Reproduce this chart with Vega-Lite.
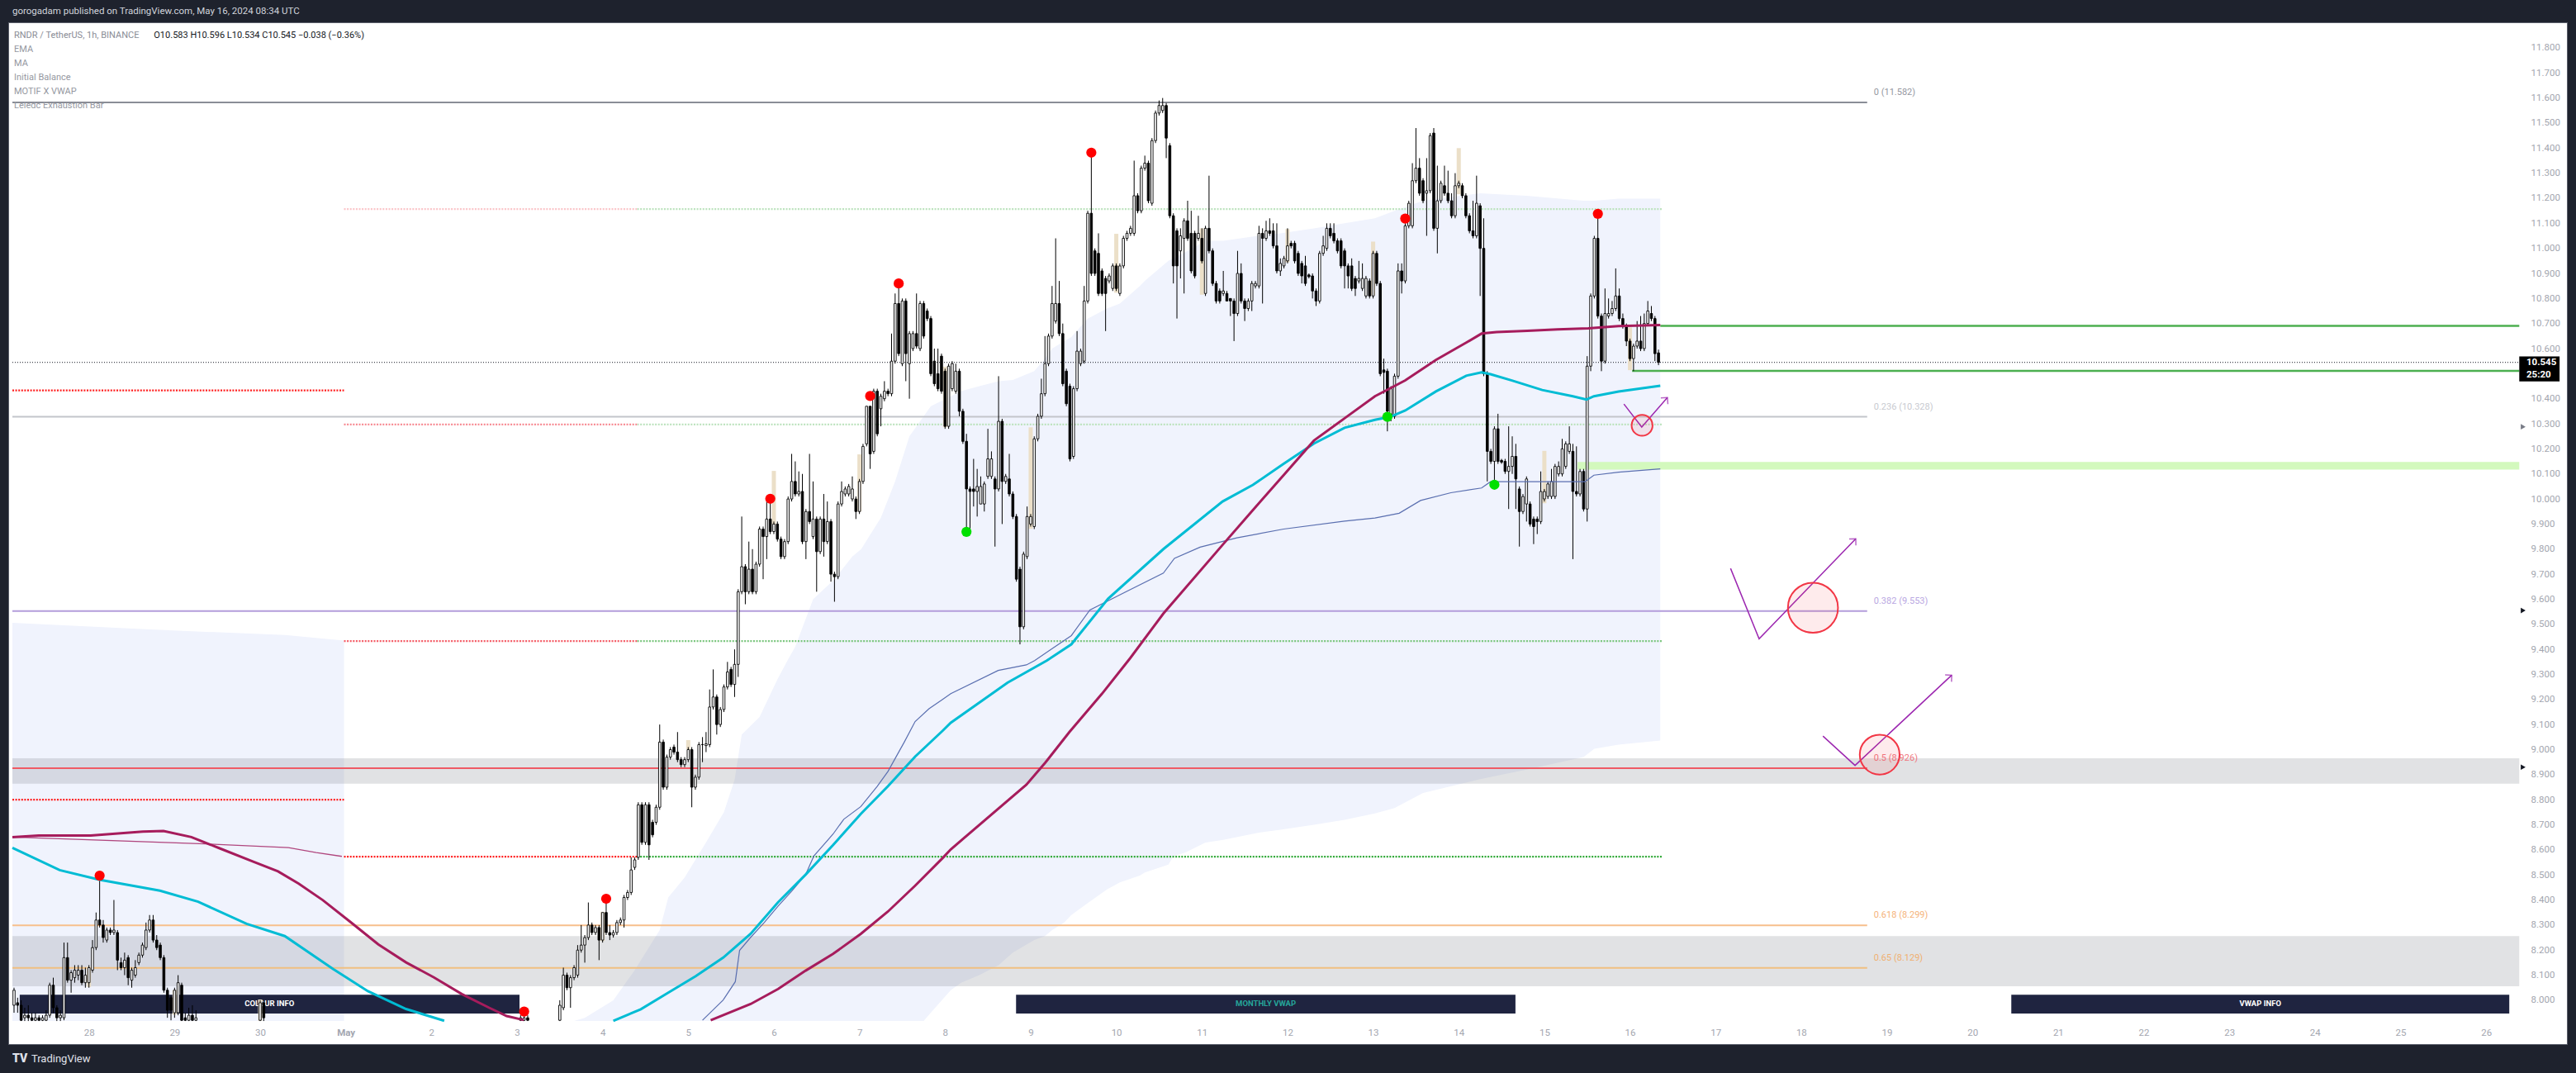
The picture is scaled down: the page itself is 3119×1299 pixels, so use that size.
{
"$schema": "https://vega.github.io/schema/vega-lite/v6.json",
"width": 3098, "height": 1237,
"autosize": {"type": "none"},
"padding": {"left": 10, "top": 27, "right": 11, "bottom": 35},
"background": "#1e222d",
"config": {"font": "Roboto", "view": {"fill": "#ffffff", "stroke": "#5b5f6b", "strokeWidth": 1}, "axis": {"grid": false, "domain": false, "ticks": false, "labelColor": "#a3a6af", "labelFontSize": 11.5, "labelFont": "Roboto", "labelOverlap": false}},
"resolve": {"scale": {"color": "independent", "size": "independent"}},
"data": {"values": [{}]},
"datasets": {
"band": [
{"s":"L","t":2.539,"top":9.506,"bot":7.917},{"s":"L","t":40,"top":9.48,"bot":7.917},{"s":"L","t":79,"top":9.457,"bot":7.917},{"s":"L","t":95.5,"top":9.435,"bot":7.917},
{"s":"M","t":160,"top":7.917,"bot":7.917},{"s":"M","t":163,"top":7.93,"bot":7.917},{"s":"M","t":171,"top":8.0,"bot":7.917},{"s":"M","t":177,"top":8.12,"bot":7.917},{"s":"M","t":184,"top":8.28,"bot":7.917},{"s":"M","t":186.4,"top":8.41,"bot":7.917},{"s":"M","t":191,"top":8.49,"bot":7.917},{"s":"M","t":197,"top":8.63,"bot":7.917},{"s":"M","t":202,"top":8.75,"bot":7.917},{"s":"M","t":205,"top":8.88,"bot":7.917},{"s":"M","t":207,"top":9.06,"bot":7.917},{"s":"M","t":212,"top":9.13,"bot":7.917},{"s":"M","t":217,"top":9.28,"bot":7.917},{"s":"M","t":220,"top":9.36,"bot":7.917},{"s":"M","t":222,"top":9.41,"bot":7.917},{"s":"M","t":227,"top":9.6,"bot":7.917},{"s":"M","t":233,"top":9.68,"bot":7.917},{"s":"M","t":238,"top":9.77,"bot":7.917},{"s":"M","t":240.5,"top":9.8,"bot":7.917},{"s":"M","t":246,"top":9.925,"bot":7.917},{"s":"M","t":250,"top":10.07,"bot":7.917},{"s":"M","t":254,"top":10.25,"bot":7.917},{"s":"M","t":258,"top":10.33,"bot":7.917},{"s":"M","t":260,"top":10.37,"bot":7.95},{"s":"M","t":265.6,"top":10.41,"bot":8.04},{"s":"M","t":268.5,"top":10.43,"bot":8.07},{"s":"M","t":273.6,"top":10.45,"bot":8.1},{"s":"M","t":279,"top":10.47,"bot":8.14},{"s":"M","t":283,"top":10.475,"bot":8.19},{"s":"M","t":289,"top":10.51,"bot":8.24},{"s":"M","t":292,"top":10.56,"bot":8.256},{"s":"M","t":294,"top":10.6,"bot":8.28},{"s":"M","t":297.4,"top":10.63,"bot":8.31},{"s":"M","t":299.4,"top":10.646,"bot":8.34},{"s":"M","t":304,"top":10.72,"bot":8.388},{"s":"M","t":309.4,"top":10.76,"bot":8.442},{"s":"M","t":313,"top":10.78,"bot":8.47},{"s":"M","t":318.6,"top":10.85,"bot":8.497},{"s":"M","t":320,"top":10.87,"bot":8.51},{"s":"M","t":326.6,"top":10.95,"bot":8.541},{"s":"M","t":328,"top":10.96,"bot":8.574},{"s":"M","t":331.4,"top":10.985,"bot":8.59},{"s":"M","t":337,"top":11.03,"bot":8.629},{"s":"M","t":342,"top":11.03,"bot":8.64},{"s":"M","t":351.7,"top":11.05,"bot":8.668},{"s":"M","t":358,"top":11.06,"bot":8.68},{"s":"M","t":367.4,"top":11.08,"bot":8.7},{"s":"M","t":376,"top":11.1,"bot":8.72},{"s":"M","t":384.5,"top":11.12,"bot":8.745},{"s":"M","t":390,"top":11.15,"bot":8.767},{"s":"M","t":398,"top":11.19,"bot":8.827},{"s":"M","t":414,"top":11.22,"bot":8.882},{"s":"M","t":427,"top":11.21,"bot":8.92},{"s":"M","t":443,"top":11.19,"bot":8.97},{"s":"M","t":446,"top":11.19,"bot":9.003},{"s":"M","t":452.8,"top":11.198,"bot":9.02},{"s":"M","t":464.5,"top":11.198,"bot":9.036}
],
"zones": [{"t1":2.539,"t2":705.3,"lo":8.864,"hi":8.965},{"t1":2.539,"t2":705.3,"lo":8.056,"hi":8.256}],
"lgzone": [{"t1":441.3,"t2":705.3,"lo":10.117,"hi":10.148}],
"fib": [
{"lvl":"0","p":11.582,"t1":2.539,"t2":522.5,"txt":"0 (11.582)"},
{"lvl":"0.236","p":10.328,"t1":2.539,"t2":522.5,"txt":"0.236 (10.328)"},
{"lvl":"0.382","p":9.553,"t1":2.539,"t2":522.5,"txt":"0.382 (9.553)"},
{"lvl":"0.5","p":8.926,"t1":2.539,"t2":522.5,"txt":"0.5 (8.926)"},
{"lvl":"0.618","p":8.299,"t1":2.539,"t2":522.5,"txt":"0.618 (8.299)"},
{"lvl":"0.65","p":8.129,"t1":2.539,"t2":522.5,"txt":"0.65 (8.129)"}
],
"ibl": [
{"g":"pk","p":11.157,"t1":95.5,"t2":177.7},{"g":"lg","p":11.157,"t1":177.7,"t2":465},
{"g":"r","p":10.433,"t1":2.539,"t2":95.5},
{"g":"pm","p":10.297,"t1":95.5,"t2":177.7},{"g":"lg","p":10.297,"t1":177.7,"t2":465},
{"g":"rm","p":9.433,"t1":95.5,"t2":177.7},{"g":"gm","p":9.433,"t1":177.7,"t2":465},
{"g":"r","p":8.8,"t1":2.539,"t2":95.5},
{"g":"r","p":8.573,"t1":95.5,"t2":177.7},{"g":"g","p":8.573,"t1":177.7,"t2":465}
],
"greens": [{"p":10.691,"t1":464.5,"t2":705.3},{"p":10.511,"t1":456.6,"t2":705.3}],
"boxes": [
{"t1":4.6,"t2":144.7,"tm":74.6,"lo":7.947,"hi":8.022,"txt":"COLOUR INFO"},
{"t1":283.9,"t2":423.9,"tm":353.9,"lo":7.947,"hi":8.022,"txt":"MONTHLY VWAP"},
{"t1":562.9,"t2":702.5,"tm":632.7,"lo":7.947,"hi":8.022,"txt":"VWAP INFO"}
],
"ib": [
{"t":24,"lo":8.053,"hi":8.135},{"t":48,"lo":7.942,"hi":8.041},{"t":72,"lo":7.918,"hi":8.003},{"t":168,"lo":8.236,"hi":8.353},{"t":192,"lo":9.001,"hi":9.038},{"t":216,"lo":9.898,"hi":10.112},{"t":240,"lo":9.95,"hi":10.178},{"t":264,"lo":10.286,"hi":10.528},{"t":288,"lo":9.881,"hi":10.286},{"t":312,"lo":10.823,"hi":11.058},{"t":336,"lo":10.815,"hi":11.08},{"t":360,"lo":10.944,"hi":11.077},{"t":384,"lo":10.812,"hi":11.027},{"t":408,"lo":11.216,"hi":11.4},{"t":432,"lo":9.983,"hi":10.192},{"t":456,"lo":10.514,"hi":10.685}
],
"candles": [
{"t":3,"o":7.98,"hi":8.05,"lo":7.95,"c":8.04},{"t":4,"o":7.99,"hi":8.01,"lo":7.95,"c":7.98},{"t":5,"o":7.98,"hi":8.0,"lo":7.917,"c":7.92},{"t":6,"o":7.93,"hi":7.97,"lo":7.917,"c":7.94},{"t":7,"o":7.94,"hi":7.98,"lo":7.917,"c":7.93},{"t":8,"o":7.93,"hi":7.95,"lo":7.917,"c":7.92},{"t":9,"o":7.92,"hi":7.95,"lo":7.917,"c":7.93},{"t":10,"o":7.93,"hi":7.94,"lo":7.917,"c":7.92},{"t":11,"o":7.92,"hi":7.94,"lo":7.917,"c":7.93},{"t":12,"o":7.92,"hi":7.96,"lo":7.917,"c":7.94},
{"t":13,"o":7.94,"hi":8.07,"lo":7.93,"c":8.06},{"t":14,"o":8.06,"hi":8.09,"lo":7.95,"c":7.97},{"t":15,"o":7.97,"hi":7.98,"lo":7.917,"c":7.93},{"t":16,"o":7.93,"hi":7.96,"lo":7.917,"c":7.94},{"t":17,"o":7.93,"hi":8.23,"lo":7.92,"c":8.17},{"t":18,"o":8.17,"hi":8.23,"lo":8.07,"c":8.08},{"t":19,"o":8.08,"hi":8.12,"lo":8.03,"c":8.11},{"t":20,"o":8.09,"hi":8.14,"lo":8.07,"c":8.12},{"t":21,"o":8.1,"hi":8.14,"lo":8.08,"c":8.12},{"t":22,"o":8.12,"hi":8.14,"lo":8.06,"c":8.07},
{"t":23,"o":8.07,"hi":8.13,"lo":8.05,"c":8.1},{"t":24,"o":8.07,"hi":8.14,"lo":8.05,"c":8.13},{"t":25,"o":8.12,"hi":8.24,"lo":8.11,"c":8.21},{"t":26,"o":8.21,"hi":8.35,"lo":8.2,"c":8.32},{"t":27,"o":8.32,"hi":8.5,"lo":8.29,"c":8.3},{"t":28,"o":8.3,"hi":8.32,"lo":8.23,"c":8.25},{"t":29,"o":8.24,"hi":8.29,"lo":8.23,"c":8.28},{"t":30,"o":8.28,"hi":8.29,"lo":8.26,"c":8.27},{"t":31,"o":8.27,"hi":8.4,"lo":8.26,"c":8.28},{"t":32,"o":8.27,"hi":8.28,"lo":8.12,"c":8.16},
{"t":33,"o":8.15,"hi":8.17,"lo":8.12,"c":8.13},{"t":34,"o":8.13,"hi":8.19,"lo":8.1,"c":8.16},{"t":35,"o":8.17,"hi":8.18,"lo":8.06,"c":8.09},{"t":36,"o":8.08,"hi":8.13,"lo":8.05,"c":8.12},{"t":37,"o":8.1,"hi":8.16,"lo":8.09,"c":8.13},{"t":38,"o":8.15,"hi":8.19,"lo":8.14,"c":8.18},{"t":39,"o":8.18,"hi":8.23,"lo":8.17,"c":8.22},{"t":40,"o":8.21,"hi":8.31,"lo":8.2,"c":8.28},{"t":41,"o":8.28,"hi":8.34,"lo":8.27,"c":8.32},{"t":42,"o":8.32,"hi":8.34,"lo":8.23,"c":8.24},
{"t":43,"o":8.24,"hi":8.26,"lo":8.2,"c":8.21},{"t":44,"o":8.22,"hi":8.23,"lo":8.16,"c":8.17},{"t":45,"o":8.17,"hi":8.18,"lo":8.03,"c":8.04},{"t":46,"o":8.04,"hi":8.05,"lo":7.93,"c":7.96},{"t":47,"o":8.01,"hi":8.02,"lo":7.92,"c":7.96},{"t":48,"o":7.95,"hi":8.05,"lo":7.93,"c":8.04},{"t":49,"o":7.95,"hi":8.1,"lo":7.94,"c":8.07},{"t":50,"o":8.06,"hi":8.07,"lo":7.917,"c":7.92},{"t":51,"o":7.93,"hi":7.95,"lo":7.917,"c":7.92},{"t":52,"o":7.92,"hi":7.97,"lo":7.917,"c":7.94},
{"t":53,"o":7.94,"hi":7.98,"lo":7.917,"c":7.92},{"t":54,"o":7.92,"hi":7.96,"lo":7.917,"c":7.93},{"t":72,"o":7.92,"hi":8.0,"lo":7.917,"c":7.99},{"t":73,"o":7.99,"hi":8.0,"lo":7.917,"c":7.93},{"t":145,"o":7.92,"hi":7.94,"lo":7.917,"c":7.93},{"t":146,"o":7.92,"hi":7.945,"lo":7.917,"c":7.93},{"t":147,"o":7.93,"hi":7.94,"lo":7.917,"c":7.92},
{"t":156,"o":7.92,"hi":8.0,"lo":7.917,"c":7.98},{"t":157,"o":7.97,"hi":8.13,"lo":7.96,"c":8.1},{"t":158,"o":8.1,"hi":8.11,"lo":8.04,"c":8.05},{"t":159,"o":8.05,"hi":8.1,"lo":7.97,"c":8.09},{"t":160,"o":8.09,"hi":8.14,"lo":8.08,"c":8.13},{"t":161,"o":8.1,"hi":8.22,"lo":8.09,"c":8.2},{"t":162,"o":8.2,"hi":8.3,"lo":8.19,"c":8.22},{"t":163,"o":8.22,"hi":8.26,"lo":8.15,"c":8.25},{"t":164,"o":8.25,"hi":8.39,"lo":8.24,"c":8.3},{"t":165,"o":8.3,"hi":8.31,"lo":8.26,"c":8.27},
{"t":166,"o":8.27,"hi":8.3,"lo":8.26,"c":8.29},{"t":167,"o":8.29,"hi":8.3,"lo":8.16,"c":8.24},{"t":168,"o":8.24,"hi":8.35,"lo":8.23,"c":8.35},{"t":169,"o":8.35,"hi":8.4,"lo":8.26,"c":8.27},{"t":170,"o":8.27,"hi":8.3,"lo":8.24,"c":8.26},{"t":171,"o":8.26,"hi":8.28,"lo":8.25,"c":8.27},{"t":172,"o":8.27,"hi":8.32,"lo":8.26,"c":8.31},{"t":173,"o":8.31,"hi":8.33,"lo":8.3,"c":8.32},{"t":174,"o":8.32,"hi":8.42,"lo":8.29,"c":8.41},{"t":175,"o":8.41,"hi":8.44,"lo":8.4,"c":8.43},
{"t":176,"o":8.43,"hi":8.57,"lo":8.42,"c":8.52},{"t":177,"o":8.53,"hi":8.57,"lo":8.52,"c":8.56},{"t":178,"o":8.57,"hi":8.79,"lo":8.56,"c":8.78},{"t":179,"o":8.78,"hi":8.79,"lo":8.62,"c":8.63},{"t":180,"o":8.63,"hi":8.79,"lo":8.62,"c":8.78},{"t":181,"o":8.78,"hi":8.79,"lo":8.56,"c":8.62},{"t":182,"o":8.71,"hi":8.72,"lo":8.65,"c":8.66},{"t":183,"o":8.71,"hi":8.78,"lo":8.7,"c":8.77},{"t":184,"o":8.77,"hi":9.1,"lo":8.76,"c":9.03},{"t":185,"o":9.03,"hi":9.04,"lo":8.84,"c":8.85},
{"t":186,"o":8.85,"hi":8.98,"lo":8.84,"c":8.97},{"t":187,"o":8.97,"hi":9.01,"lo":8.96,"c":9.0},{"t":188,"o":9.01,"hi":9.02,"lo":8.98,"c":8.99},{"t":189,"o":8.99,"hi":9.07,"lo":8.95,"c":8.96},{"t":190,"o":8.96,"hi":8.97,"lo":8.93,"c":8.94},{"t":191,"o":8.94,"hi":8.97,"lo":8.93,"c":8.96},{"t":192,"o":8.96,"hi":9.01,"lo":8.95,"c":9.0},{"t":193,"o":9.0,"hi":9.01,"lo":8.77,"c":8.85},{"t":194,"o":8.85,"hi":8.9,"lo":8.84,"c":8.89},{"t":195,"o":8.89,"hi":9.03,"lo":8.88,"c":9.02},
{"t":196,"o":9.02,"hi":9.05,"lo":8.95,"c":9.02},{"t":197,"o":9.016,"hi":9.07,"lo":8.99,"c":9.023},{"t":198,"o":9.02,"hi":9.24,"lo":9.01,"c":9.17},{"t":199,"o":9.17,"hi":9.32,"lo":9.16,"c":9.21},{"t":200,"o":9.21,"hi":9.22,"lo":9.06,"c":9.1},{"t":201,"o":9.1,"hi":9.17,"lo":9.09,"c":9.16},{"t":202,"o":9.16,"hi":9.26,"lo":9.15,"c":9.25},{"t":203,"o":9.25,"hi":9.35,"lo":9.24,"c":9.31},{"t":204,"o":9.32,"hi":9.33,"lo":9.25,"c":9.26},{"t":205,"o":9.26,"hi":9.4,"lo":9.21,"c":9.34},
{"t":206,"o":9.34,"hi":9.64,"lo":9.29,"c":9.63},{"t":207,"o":9.63,"hi":9.93,"lo":9.62,"c":9.73},{"t":208,"o":9.73,"hi":9.74,"lo":9.58,"c":9.63},{"t":209,"o":9.63,"hi":9.83,"lo":9.62,"c":9.72},{"t":210,"o":9.72,"hi":9.8,"lo":9.62,"c":9.63},{"t":211,"o":9.63,"hi":9.75,"lo":9.62,"c":9.74},{"t":212,"o":9.74,"hi":9.89,"lo":9.73,"c":9.88},{"t":213,"o":9.88,"hi":9.89,"lo":9.68,"c":9.85},{"t":214,"o":9.85,"hi":9.99,"lo":9.76,"c":9.92},{"t":215,"o":9.92,"hi":9.99,"lo":9.86,"c":9.87},
{"t":216,"o":9.87,"hi":9.91,"lo":9.86,"c":9.9},{"t":217,"o":9.9,"hi":9.91,"lo":9.83,"c":9.84},{"t":218,"o":9.84,"hi":9.85,"lo":9.76,"c":9.77},{"t":219,"o":9.77,"hi":9.84,"lo":9.76,"c":9.83},{"t":220,"o":9.83,"hi":10.01,"lo":9.82,"c":10.0},{"t":221,"o":10.0,"hi":10.18,"lo":9.99,"c":10.07},{"t":222,"o":10.07,"hi":10.15,"lo":10.01,"c":10.02},{"t":223,"o":10.02,"hi":10.11,"lo":10.01,"c":10.03},{"t":224,"o":10.03,"hi":10.1,"lo":9.82,"c":9.83},{"t":225,"o":9.83,"hi":9.96,"lo":9.76,"c":9.95},
{"t":226,"o":9.95,"hi":10.18,"lo":9.9,"c":9.91},{"t":227,"o":9.85,"hi":10.07,"lo":9.84,"c":9.92},{"t":228,"o":9.92,"hi":9.93,"lo":9.63,"c":9.79},{"t":229,"o":9.79,"hi":9.93,"lo":9.78,"c":9.92},{"t":230,"o":9.92,"hi":10.02,"lo":9.77,"c":9.83},{"t":231,"o":9.83,"hi":9.99,"lo":9.82,"c":9.91},{"t":232,"o":9.91,"hi":9.92,"lo":9.67,"c":9.7},{"t":233,"o":9.7,"hi":9.71,"lo":9.59,"c":9.69},{"t":234,"o":9.69,"hi":9.99,"lo":9.68,"c":9.98},{"t":235,"o":9.98,"hi":10.07,"lo":9.97,"c":10.03},
{"t":236,"o":10.02,"hi":10.05,"lo":10.01,"c":10.04},{"t":237,"o":10.02,"hi":10.06,"lo":10.01,"c":10.05},{"t":238,"o":10.0,"hi":10.09,"lo":9.99,"c":10.04},{"t":239,"o":10.0,"hi":10.01,"lo":9.92,"c":9.95},{"t":240,"o":9.95,"hi":10.08,"lo":9.94,"c":10.07},{"t":241,"o":10.07,"hi":10.22,"lo":10.06,"c":10.21},{"t":242,"o":10.22,"hi":10.37,"lo":10.21,"c":10.37},{"t":243,"o":10.37,"hi":10.37,"lo":10.12,"c":10.18},{"t":244,"o":10.19,"hi":10.44,"lo":10.18,"c":10.43},{"t":245,"o":10.43,"hi":10.44,"lo":10.25,"c":10.26},
{"t":246,"o":10.36,"hi":10.42,"lo":10.29,"c":10.41},{"t":247,"o":10.4,"hi":10.47,"lo":10.39,"c":10.43},{"t":248,"o":10.43,"hi":10.44,"lo":10.41,"c":10.42},{"t":249,"o":10.42,"hi":10.66,"lo":10.41,"c":10.55},{"t":250,"o":10.55,"hi":10.82,"lo":10.54,"c":10.78},{"t":251,"o":10.78,"hi":10.86,"lo":10.57,"c":10.58},{"t":252,"o":10.54,"hi":10.8,"lo":10.53,"c":10.79},{"t":253,"o":10.79,"hi":10.8,"lo":10.47,"c":10.58},{"t":254,"o":10.54,"hi":10.67,"lo":10.4,"c":10.66},{"t":255,"o":10.6,"hi":10.67,"lo":10.59,"c":10.66},
{"t":256,"o":10.66,"hi":10.82,"lo":10.6,"c":10.61},{"t":257,"o":10.6,"hi":10.79,"lo":10.59,"c":10.78},{"t":258,"o":10.78,"hi":10.79,"lo":10.64,"c":10.65},{"t":259,"o":10.75,"hi":10.76,"lo":10.71,"c":10.72},{"t":260,"o":10.72,"hi":10.73,"lo":10.49,"c":10.5},{"t":261,"o":10.55,"hi":10.6,"lo":10.45,"c":10.46},{"t":262,"o":10.5,"hi":10.6,"lo":10.43,"c":10.44},{"t":263,"o":10.57,"hi":10.58,"lo":10.42,"c":10.43},{"t":264,"o":10.51,"hi":10.52,"lo":10.28,"c":10.29},{"t":265,"o":10.29,"hi":10.54,"lo":10.28,"c":10.53},
{"t":266,"o":10.44,"hi":10.55,"lo":10.43,"c":10.54},{"t":267,"o":10.43,"hi":10.54,"lo":10.42,"c":10.51},{"t":268,"o":10.51,"hi":10.52,"lo":10.33,"c":10.35},{"t":269,"o":10.35,"hi":10.36,"lo":10.22,"c":10.23},{"t":270,"o":10.23,"hi":10.26,"lo":9.87,"c":10.04},{"t":271,"o":10.04,"hi":10.05,"lo":9.87,"c":10.03},{"t":272,"o":10.04,"hi":10.16,"lo":9.97,"c":10.03},{"t":273,"o":10.03,"hi":10.12,"lo":9.93,"c":10.05},{"t":274,"o":9.98,"hi":10.09,"lo":9.98,"c":10.05},{"t":275,"o":9.98,"hi":10.07,"lo":9.95,"c":10.06},
{"t":276,"o":10.09,"hi":10.28,"lo":10.08,"c":10.16},{"t":277,"o":10.09,"hi":10.19,"lo":10.08,"c":10.16},{"t":278,"o":10.08,"hi":10.09,"lo":9.81,"c":10.04},{"t":279,"o":10.04,"hi":10.49,"lo":10.03,"c":10.31},{"t":280,"o":10.31,"hi":10.32,"lo":9.9,"c":10.07},{"t":281,"o":10.07,"hi":10.1,"lo":10.06,"c":10.09},{"t":282,"o":10.08,"hi":10.18,"lo":10.01,"c":10.02},{"t":283,"o":10.02,"hi":10.03,"lo":9.92,"c":9.93},{"t":284,"o":9.93,"hi":9.94,"lo":9.67,"c":9.68},{"t":285,"o":9.72,"hi":9.73,"lo":9.42,"c":9.49},
{"t":286,"o":9.49,"hi":9.79,"lo":9.48,"c":9.78},{"t":287,"o":9.77,"hi":9.97,"lo":9.76,"c":9.93},{"t":288,"o":9.9,"hi":9.94,"lo":9.89,"c":9.93},{"t":289,"o":9.89,"hi":10.25,"lo":9.88,"c":10.24},{"t":290,"o":10.24,"hi":10.34,"lo":10.23,"c":10.33},{"t":291,"o":10.33,"hi":10.48,"lo":10.32,"c":10.42},{"t":292,"o":10.42,"hi":10.65,"lo":10.41,"c":10.54},{"t":293,"o":10.54,"hi":10.66,"lo":10.53,"c":10.65},{"t":294,"o":10.65,"hi":10.85,"lo":10.64,"c":10.78},{"t":295,"o":10.71,"hi":11.04,"lo":10.7,"c":10.78},
{"t":296,"o":10.78,"hi":10.87,"lo":10.65,"c":10.66},{"t":297,"o":10.66,"hi":10.7,"lo":10.45,"c":10.46},{"t":298,"o":10.51,"hi":10.52,"lo":10.37,"c":10.38},{"t":299,"o":10.45,"hi":10.46,"lo":10.15,"c":10.16},{"t":300,"o":10.17,"hi":10.45,"lo":10.16,"c":10.44},{"t":301,"o":10.44,"hi":10.67,"lo":10.43,"c":10.59},{"t":302,"o":10.54,"hi":10.6,"lo":10.53,"c":10.59},{"t":303,"o":10.55,"hi":10.85,"lo":10.54,"c":10.79},{"t":304,"o":10.79,"hi":11.15,"lo":10.78,"c":11.14},{"t":305,"o":11.14,"hi":11.38,"lo":10.89,"c":10.9},
{"t":306,"o":10.99,"hi":11.0,"lo":10.89,"c":10.9},{"t":307,"o":10.98,"hi":11.06,"lo":10.81,"c":10.82},{"t":308,"o":10.91,"hi":10.92,"lo":10.81,"c":10.82},{"t":309,"o":10.88,"hi":10.89,"lo":10.67,"c":10.82},{"t":310,"o":10.87,"hi":10.9,"lo":10.86,"c":10.89},{"t":311,"o":10.84,"hi":10.94,"lo":10.83,"c":10.93},{"t":312,"o":10.93,"hi":10.94,"lo":10.83,"c":10.84},{"t":313,"o":10.82,"hi":10.94,"lo":10.81,"c":10.93},{"t":314,"o":10.93,"hi":11.05,"lo":10.92,"c":11.04},{"t":315,"o":11.04,"hi":11.07,"lo":11.03,"c":11.06},
{"t":316,"o":11.06,"hi":11.09,"lo":11.05,"c":11.08},{"t":317,"o":11.06,"hi":11.35,"lo":11.05,"c":11.21},{"t":318,"o":11.21,"hi":11.22,"lo":11.14,"c":11.15},{"t":319,"o":11.15,"hi":11.33,"lo":11.14,"c":11.32},{"t":320,"o":11.32,"hi":11.37,"lo":11.31,"c":11.34},{"t":321,"o":11.34,"hi":11.35,"lo":11.18,"c":11.19},{"t":322,"o":11.18,"hi":11.44,"lo":11.17,"c":11.43},{"t":323,"o":11.43,"hi":11.55,"lo":11.42,"c":11.54},{"t":324,"o":11.54,"hi":11.59,"lo":11.53,"c":11.57},{"t":325,"o":11.55,"hi":11.6,"lo":11.54,"c":11.57},
{"t":326,"o":11.57,"hi":11.58,"lo":11.36,"c":11.44},{"t":327,"o":11.41,"hi":11.42,"lo":11.12,"c":11.13},{"t":328,"o":11.13,"hi":11.14,"lo":10.86,"c":10.93},{"t":329,"o":11.07,"hi":11.08,"lo":10.72,"c":10.93},{"t":330,"o":10.99,"hi":11.08,"lo":10.88,"c":11.05},{"t":331,"o":11.04,"hi":11.12,"lo":10.82,"c":11.11},{"t":332,"o":11.11,"hi":11.19,"lo":11.03,"c":11.04},{"t":333,"o":11.06,"hi":11.15,"lo":10.9,"c":10.91},{"t":334,"o":11.06,"hi":11.07,"lo":10.88,"c":10.89},{"t":335,"o":11.04,"hi":11.13,"lo":11.03,"c":11.06},
{"t":336,"o":11.04,"hi":11.08,"lo":10.94,"c":10.95},{"t":337,"o":10.82,"hi":11.09,"lo":10.81,"c":11.08},{"t":338,"o":11.08,"hi":11.29,"lo":10.98,"c":10.99},{"t":339,"o":10.99,"hi":11.0,"lo":10.85,"c":10.86},{"t":340,"o":10.86,"hi":10.87,"lo":10.78,"c":10.79},{"t":341,"o":10.83,"hi":10.84,"lo":10.78,"c":10.79},{"t":342,"o":10.82,"hi":10.91,"lo":10.81,"c":10.83},{"t":343,"o":10.82,"hi":10.83,"lo":10.79,"c":10.79},{"t":344,"o":10.8,"hi":10.8,"lo":10.73,"c":10.79},{"t":345,"o":10.79,"hi":10.8,"lo":10.63,"c":10.74},
{"t":346,"o":10.74,"hi":10.99,"lo":10.73,"c":10.9},{"t":347,"o":10.9,"hi":10.94,"lo":10.78,"c":10.79},{"t":348,"o":10.79,"hi":10.8,"lo":10.71,"c":10.76},{"t":349,"o":10.76,"hi":10.8,"lo":10.75,"c":10.79},{"t":350,"o":10.79,"hi":10.87,"lo":10.75,"c":10.86},{"t":351,"o":10.85,"hi":10.87,"lo":10.84,"c":10.86},{"t":352,"o":10.85,"hi":11.09,"lo":10.84,"c":11.06},{"t":353,"o":11.06,"hi":11.08,"lo":10.78,"c":11.04},{"t":354,"o":11.04,"hi":11.11,"lo":11.03,"c":11.07},{"t":355,"o":11.07,"hi":11.12,"lo":11.05,"c":11.06},
{"t":356,"o":11.07,"hi":11.1,"lo":11.0,"c":11.01},{"t":357,"o":11.01,"hi":11.1,"lo":10.9,"c":10.91},{"t":358,"o":10.91,"hi":10.96,"lo":10.89,"c":10.94},{"t":359,"o":10.93,"hi":10.97,"lo":10.92,"c":10.96},{"t":360,"o":10.95,"hi":11.08,"lo":10.94,"c":11.01},{"t":361,"o":11.02,"hi":11.03,"lo":11.0,"c":11.01},{"t":362,"o":11.02,"hi":11.03,"lo":10.94,"c":10.95},{"t":363,"o":10.98,"hi":10.99,"lo":10.89,"c":10.9},{"t":364,"o":10.94,"hi":10.95,"lo":10.86,"c":10.89},{"t":365,"o":10.93,"hi":10.97,"lo":10.85,"c":10.86},
{"t":366,"o":10.894,"hi":10.9,"lo":10.88,"c":10.887},{"t":367,"o":10.89,"hi":10.9,"lo":10.8,"c":10.83},{"t":368,"o":10.83,"hi":10.84,"lo":10.77,"c":10.79},{"t":369,"o":10.79,"hi":10.99,"lo":10.78,"c":10.98},{"t":370,"o":10.98,"hi":11.05,"lo":10.97,"c":11.01},{"t":371,"o":11.0,"hi":11.1,"lo":10.99,"c":11.08},{"t":372,"o":11.08,"hi":11.1,"lo":11.04,"c":11.05},{"t":373,"o":11.06,"hi":11.1,"lo":11.02,"c":11.03},{"t":374,"o":11.03,"hi":11.04,"lo":10.98,"c":10.99},{"t":375,"o":11.03,"hi":11.04,"lo":10.92,"c":10.93},
{"t":376,"o":10.99,"hi":11.0,"lo":10.84,"c":10.93},{"t":377,"o":10.93,"hi":10.94,"lo":10.84,"c":10.89},{"t":378,"o":10.93,"hi":10.96,"lo":10.83,"c":10.84},{"t":379,"o":10.88,"hi":10.89,"lo":10.81,"c":10.84},{"t":380,"o":10.87,"hi":10.95,"lo":10.86,"c":10.88},{"t":381,"o":10.84,"hi":10.94,"lo":10.83,"c":10.88},{"t":382,"o":10.81,"hi":10.89,"lo":10.8,"c":10.88},{"t":383,"o":10.87,"hi":10.88,"lo":10.8,"c":10.81},{"t":384,"o":10.81,"hi":10.99,"lo":10.8,"c":10.98},{"t":385,"o":10.98,"hi":10.99,"lo":10.85,"c":10.86},
{"t":386,"o":10.86,"hi":10.87,"lo":10.49,"c":10.5},{"t":387,"o":10.515,"hi":10.56,"lo":10.42,"c":10.505},{"t":388,"o":10.51,"hi":10.52,"lo":10.27,"c":10.35},{"t":389,"o":10.33,"hi":10.45,"lo":10.31,"c":10.44},{"t":390,"o":10.33,"hi":10.5,"lo":10.32,"c":10.49},{"t":391,"o":10.49,"hi":10.94,"lo":10.48,"c":10.91},{"t":392,"o":10.91,"hi":10.94,"lo":10.82,"c":10.87},{"t":393,"o":10.87,"hi":11.1,"lo":10.86,"c":11.09},{"t":394,"o":11.09,"hi":11.19,"lo":11.08,"c":11.18},{"t":395,"o":11.09,"hi":11.34,"lo":11.08,"c":11.27},
{"t":396,"o":11.27,"hi":11.48,"lo":11.26,"c":11.32},{"t":397,"o":11.32,"hi":11.36,"lo":11.21,"c":11.22},{"t":398,"o":11.27,"hi":11.28,"lo":11.18,"c":11.19},{"t":399,"o":11.22,"hi":11.36,"lo":11.05,"c":11.23},{"t":400,"o":11.23,"hi":11.46,"lo":11.22,"c":11.45},{"t":401,"o":11.46,"hi":11.48,"lo":11.07,"c":11.08},{"t":402,"o":11.08,"hi":11.33,"lo":10.98,"c":11.19},{"t":403,"o":11.19,"hi":11.27,"lo":11.18,"c":11.26},{"t":404,"o":11.25,"hi":11.33,"lo":11.21,"c":11.22},{"t":405,"o":11.22,"hi":11.31,"lo":11.18,"c":11.19},
{"t":406,"o":11.19,"hi":11.22,"lo":11.12,"c":11.13},{"t":407,"o":11.13,"hi":11.3,"lo":11.12,"c":11.25},{"t":408,"o":11.25,"hi":11.27,"lo":11.24,"c":11.26},{"t":409,"o":11.25,"hi":11.26,"lo":11.2,"c":11.21},{"t":410,"o":11.21,"hi":11.22,"lo":11.12,"c":11.13},{"t":411,"o":11.13,"hi":11.14,"lo":11.06,"c":11.07},{"t":412,"o":11.07,"hi":11.19,"lo":11.04,"c":11.05},{"t":413,"o":11.05,"hi":11.29,"lo":11.04,"c":11.18},{"t":414,"o":11.17,"hi":11.18,"lo":10.81,"c":11.0},{"t":415,"o":11.0,"hi":11.12,"lo":10.49,"c":10.5},
{"t":416,"o":10.5,"hi":10.51,"lo":10.07,"c":10.19},{"t":417,"o":10.19,"hi":10.2,"lo":10.14,"c":10.15},{"t":418,"o":10.15,"hi":10.29,"lo":10.06,"c":10.28},{"t":419,"o":10.28,"hi":10.34,"lo":10.14,"c":10.15},{"t":420,"o":10.154,"hi":10.16,"lo":10.14,"c":10.147},{"t":421,"o":10.15,"hi":10.16,"lo":10.1,"c":10.11},{"t":422,"o":10.11,"hi":10.29,"lo":9.96,"c":10.13},{"t":423,"o":10.13,"hi":10.25,"lo":10.1,"c":10.17},{"t":424,"o":10.17,"hi":10.22,"lo":9.96,"c":10.08},{"t":425,"o":10.04,"hi":10.05,"lo":9.81,"c":9.95},
{"t":426,"o":9.95,"hi":10.02,"lo":9.94,"c":10.01},{"t":427,"o":9.98,"hi":10.09,"lo":9.91,"c":10.08},{"t":428,"o":9.98,"hi":9.99,"lo":9.89,"c":9.9},{"t":429,"o":9.92,"hi":9.93,"lo":9.82,"c":9.89},{"t":430,"o":9.92,"hi":9.93,"lo":9.86,"c":9.91},{"t":431,"o":9.91,"hi":10.11,"lo":9.9,"c":10.03},{"t":432,"o":10.0,"hi":10.04,"lo":9.99,"c":10.03},{"t":433,"o":10.01,"hi":10.07,"lo":10.0,"c":10.06},{"t":434,"o":10.01,"hi":10.12,"lo":10.0,"c":10.07},{"t":435,"o":10.01,"hi":10.14,"lo":10.0,"c":10.13},
{"t":436,"o":10.1,"hi":10.15,"lo":10.09,"c":10.13},{"t":437,"o":10.1,"hi":10.24,"lo":10.09,"c":10.2},{"t":438,"o":10.13,"hi":10.23,"lo":10.12,"c":10.22},{"t":439,"o":10.19,"hi":10.29,"lo":10.18,"c":10.22},{"t":440,"o":10.19,"hi":10.22,"lo":9.76,"c":10.03},{"t":441,"o":10.03,"hi":10.21,"lo":10.01,"c":10.02},{"t":442,"o":10.02,"hi":10.12,"lo":10.01,"c":10.11},{"t":443,"o":10.11,"hi":10.12,"lo":9.95,"c":9.96},{"t":444,"o":9.96,"hi":10.57,"lo":9.91,"c":10.53},{"t":445,"o":10.53,"hi":10.82,"lo":10.51,"c":10.81},
{"t":446,"o":10.81,"hi":11.05,"lo":10.8,"c":11.04},{"t":447,"o":11.04,"hi":11.14,"lo":10.72,"c":10.73},{"t":448,"o":10.73,"hi":10.74,"lo":10.51,"c":10.55},{"t":449,"o":10.55,"hi":10.84,"lo":10.54,"c":10.74},{"t":450,"o":10.73,"hi":10.8,"lo":10.72,"c":10.74},{"t":451,"o":10.74,"hi":10.79,"lo":10.73,"c":10.76},{"t":452,"o":10.76,"hi":10.92,"lo":10.75,"c":10.81},{"t":453,"o":10.81,"hi":10.84,"lo":10.71,"c":10.72},{"t":454,"o":10.72,"hi":10.74,"lo":10.68,"c":10.69},{"t":455,"o":10.69,"hi":10.7,"lo":10.61,"c":10.63},
{"t":456,"o":10.63,"hi":10.64,"lo":10.55,"c":10.56},{"t":457,"o":10.56,"hi":10.62,"lo":10.51,"c":10.61},{"t":458,"o":10.61,"hi":10.71,"lo":10.6,"c":10.63},{"t":459,"o":10.63,"hi":10.73,"lo":10.59,"c":10.6},{"t":460,"o":10.6,"hi":10.74,"lo":10.59,"c":10.7},{"t":461,"o":10.7,"hi":10.79,"lo":10.69,"c":10.75},{"t":462,"o":10.74,"hi":10.77,"lo":10.71,"c":10.72},{"t":463,"o":10.72,"hi":10.73,"lo":10.55,"c":10.58},{"t":464,"o":10.583,"hi":10.596,"lo":10.534,"c":10.545}
],
"ema": [
{"s":1,"t":2.539,"v":8.608},{"s":1,"t":15.8,"v":8.519},{"s":1,"t":26.9,"v":8.481},{"s":1,"t":43.9,"v":8.437},{"s":1,"t":54.6,"v":8.393},{"s":1,"t":68.2,"v":8.305},{"s":1,"t":78.9,"v":8.256},{"s":1,"t":92.5,"v":8.124},{"s":1,"t":102.2,"v":8.036},{"s":1,"t":112.9,"v":7.965},{"s":1,"t":123.6,"v":7.918},
{"s":2,"t":171,"v":7.918},{"s":2,"t":178.7,"v":7.964},{"s":2,"t":186.4,"v":8.03},{"s":2,"t":194.1,"v":8.096},{"s":2,"t":201.8,"v":8.17},{"s":2,"t":209.5,"v":8.265},{"s":2,"t":217.2,"v":8.391},{"s":2,"t":224.9,"v":8.501},{"s":2,"t":232.6,"v":8.619},{"s":2,"t":240.4,"v":8.744},{"s":2,"t":248,"v":8.854},{"s":2,"t":255.6,"v":8.972},{"s":2,"t":263.3,"v":9.075},{"s":2,"t":265.6,"v":9.107},{"s":2,"t":281.5,"v":9.267},{"s":2,"t":292.5,"v":9.355},{"s":2,"t":299.4,"v":9.42},{"s":2,"t":309.7,"v":9.602},{"s":2,"t":325.2,"v":9.8},{"s":2,"t":341.8,"v":9.99},{"s":2,"t":350.3,"v":10.056},{"s":2,"t":358.9,"v":10.14},{"s":2,"t":367.4,"v":10.221},{"s":2,"t":376,"v":10.284},{"s":2,"t":384.5,"v":10.316},{"s":2,"t":388.8,"v":10.328},{"s":2,"t":393,"v":10.353},{"s":2,"t":401.6,"v":10.429},{"s":2,"t":410.1,"v":10.492},{"s":2,"t":414.4,"v":10.505},{"s":2,"t":416.9,"v":10.498},{"s":2,"t":422.9,"v":10.473},{"s":2,"t":431.4,"v":10.435},{"s":2,"t":440,"v":10.41},{"s":2,"t":443.8,"v":10.397},{"s":2,"t":445.9,"v":10.41},{"s":2,"t":452.8,"v":10.429},{"s":2,"t":464.5,"v":10.452}
],
"ma": [
{"s":1,"t":2.539,"v":8.651},{"s":1,"t":9.9,"v":8.657},{"s":1,"t":24.5,"v":8.657},{"s":1,"t":39.1,"v":8.673},{"s":1,"t":44.9,"v":8.675},{"s":1,"t":52.7,"v":8.651},{"s":1,"t":60.5,"v":8.607},{"s":1,"t":70.2,"v":8.552},{"s":1,"t":77,"v":8.514},{"s":1,"t":82.8,"v":8.465},{"s":1,"t":89.6,"v":8.399},{"s":1,"t":97.4,"v":8.311},{"s":1,"t":105.1,"v":8.223},{"s":1,"t":112.9,"v":8.151},{"s":1,"t":120.7,"v":8.091},{"s":1,"t":128.5,"v":8.025},{"s":1,"t":136.2,"v":7.97},{"s":1,"t":141.1,"v":7.937},{"s":1,"t":145.9,"v":7.921},
{"s":2,"t":198.3,"v":7.92},{"s":2,"t":209.5,"v":7.985},{"s":2,"t":217.2,"v":8.045},{"s":2,"t":224.9,"v":8.118},{"s":2,"t":232.6,"v":8.185},{"s":2,"t":240.4,"v":8.265},{"s":2,"t":248,"v":8.354},{"s":2,"t":255.6,"v":8.457},{"s":2,"t":263.3,"v":8.567},{"s":2,"t":265.6,"v":8.602},{"s":2,"t":286.8,"v":8.86},{"s":2,"t":292.1,"v":8.948},{"s":2,"t":298.8,"v":9.069},{"s":2,"t":308,"v":9.223},{"s":2,"t":315.9,"v":9.365},{"s":2,"t":325.2,"v":9.543},{"s":2,"t":341.8,"v":9.817},{"s":2,"t":350.3,"v":9.956},{"s":2,"t":358.9,"v":10.095},{"s":2,"t":367.4,"v":10.233},{"s":2,"t":376,"v":10.322},{"s":2,"t":384.5,"v":10.41},{"s":2,"t":393,"v":10.473},{"s":2,"t":401.6,"v":10.555},{"s":2,"t":410.1,"v":10.624},{"s":2,"t":414.4,"v":10.66},{"s":2,"t":418.6,"v":10.666},{"s":2,"t":427.2,"v":10.671},{"s":2,"t":435.7,"v":10.677},{"s":2,"t":444.3,"v":10.681},{"s":2,"t":452.8,"v":10.69},{"s":2,"t":464.5,"v":10.694}
],
"pvwap": [{"t":2.539,"v":8.651},{"t":56.6,"v":8.624},{"t":79.9,"v":8.609},{"t":87.7,"v":8.589},{"t":94.9,"v":8.574}],
"vwap": [
{"t":196,"v":7.92},{"t":201.8,"v":8.001},{"t":205.2,"v":8.074},{"t":206.4,"v":8.199},{"t":209.5,"v":8.251},{"t":213.3,"v":8.31},{"t":217.2,"v":8.376},{"t":221,"v":8.435},{"t":224.9,"v":8.501},{"t":227.2,"v":8.575},{"t":232.6,"v":8.663},{"t":235.6,"v":8.722},{"t":240.4,"v":8.773},{"t":245,"v":8.854},{"t":248,"v":8.913},{"t":252.6,"v":9.031},{"t":255.6,"v":9.112},{"t":259.5,"v":9.163},{"t":263.3,"v":9.2},{"t":265.6,"v":9.223},{"t":278.9,"v":9.316},{"t":286.8,"v":9.338},{"t":289.1,"v":9.355},{"t":293.5,"v":9.398},{"t":299.4,"v":9.455},{"t":304.6,"v":9.557},{"t":314.9,"v":9.631},{"t":325.2,"v":9.704},{"t":328.3,"v":9.763},{"t":335.5,"v":9.808},{"t":345.8,"v":9.845},{"t":358.9,"v":9.88},{"t":376,"v":9.912},{"t":384.5,"v":9.924},{"t":391.3,"v":9.943},{"t":397.3,"v":9.994},{"t":405.8,"v":10.025},{"t":414.4,"v":10.044},{"t":416.9,"v":10.069},{"t":443.4,"v":10.069},{"t":445.9,"v":10.095},{"t":452.8,"v":10.107},{"t":464.5,"v":10.12}
],
"dots": [
{"k":"r","t":27,"p":8.497},{"k":"r","t":146,"p":7.955},{"k":"r","t":169,"p":8.405},{"k":"r","t":215,"p":10.001},{"k":"r","t":243,"p":10.411},{"k":"r","t":251,"p":10.86},{"k":"r","t":305,"p":11.382},{"k":"r","t":393,"p":11.119},{"k":"r","t":447,"p":11.138},
{"k":"g","t":270,"p":9.869},{"k":"g","t":388,"p":10.328},{"k":"g","t":418,"p":10.057}
],
"draw": [
{"id":"a","k":1,"t":454.3,"p":10.379},{"id":"a","k":2,"t":459.3,"p":10.287},{"id":"a","k":3,"t":466.5,"p":10.405},
{"id":"b","k":1,"t":484.2,"p":9.723},{"id":"b","k":2,"t":492.2,"p":9.442},{"id":"b","k":3,"t":519.3,"p":9.841},
{"id":"c","k":1,"t":510.1,"p":9.054},{"id":"c","k":2,"t":519.1,"p":8.937},{"id":"c","k":3,"t":546.2,"p":9.297}
],
"circ": [{"id":"a","t":459.4,"p":10.294},{"id":"b","t":507.3,"p":9.566},{"id":"c","t":526.0,"p":8.98}],
"heads": [{"id":"a","t":466.5,"p":10.405},{"id":"b","t":519.3,"p":9.841},{"id":"c","t":546.2,"p":9.297}],
"marks": [{"p":10.288,"k":"g"},{"p":9.555,"k":"b"},{"p":8.93,"k":"b"}]
},
"layer": [
{"data": {"name": "band"}, "mark": {"type": "area", "color": "#f0f3fd", "opacity": 1},
 "encoding": {
  "x": {"field": "t", "type": "quantitative", "scale": {"domain": [2.539, 717.5], "nice": false, "zero": false},
        "axis": {"orient": "bottom", "offset": -26, "title": null, "labelPadding": 6, "labelColor": "#a3a6af", "labelOverlap": false, "tickCount": 60,
                 "values": [24,48,72,96,120,144,168,192,216,240,264,288,312,336,360,384,408,432,456,480,504,528,552,576,600,624,648,672,696],
                 "labelExpr": "datum.value == 96 ? 'May' : (datum.value < 96 ? '' + (27 + datum.value / 24) : '' + (datum.value / 24 - 3))",
                 "labelFontWeight": {"condition": {"test": "datum.value == 96", "value": "bold"}, "value": "normal"}}},
  "y": {"field": "top", "type": "quantitative", "scale": {"domain": [7.825, 11.902], "nice": false, "zero": false},
        "axis": {"orient": "right", "offset": -53, "title": null, "labelPadding": 9, "format": ".3f", "labelColor": "#a3a6af", "labelOverlap": false, "labelFlush": false, "tickCount": 60,
                 "values": [8,8.1,8.2,8.3,8.4,8.5,8.6,8.7,8.8,8.9,9,9.1,9.2,9.3,9.4,9.5,9.6,9.7,9.8,9.9,10,10.1,10.2,10.3,10.4,10.6,10.7,10.8,10.9,11,11.1,11.2,11.3,11.4,11.5,11.6,11.7,11.8]}},
  "y2": {"field": "bot"},
  "detail": {"field": "s"}}},
{"data": {"name": "zones"}, "mark": {"type": "rect", "color": "#787b86", "opacity": 0.22},
 "encoding": {"x": {"field": "t1", "type": "quantitative"}, "x2": {"field": "t2"}, "y": {"field": "lo", "type": "quantitative"}, "y2": {"field": "hi"}}},
{"data": {"name": "lgzone"}, "mark": {"type": "rect", "color": "#d3f9bd"},
 "encoding": {"x": {"field": "t1", "type": "quantitative"}, "x2": {"field": "t2"}, "y": {"field": "lo", "type": "quantitative"}, "y2": {"field": "hi"}}},
{"data": {"name": "fib"}, "mark": {"type": "rule", "strokeWidth": 2},
 "encoding": {"x": {"field": "t1", "type": "quantitative"}, "x2": {"field": "t2"}, "y": {"field": "p", "type": "quantitative"},
  "color": {"field": "lvl", "type": "nominal", "legend": null, "scale": {"domain": ["0","0.236","0.382","0.5","0.618","0.65"], "range": ["#8a8d96","#c3c5cb","#b39ddb","#ef5a64","#f7bf8c","#f0bf80"]}}}},
{"data": {"name": "fib"}, "mark": {"type": "text", "align": "left", "baseline": "middle", "dx": 8, "dy": -12, "fontSize": 11},
 "encoding": {"x": {"field": "t2", "type": "quantitative"}, "y": {"field": "p", "type": "quantitative"}, "text": {"field": "txt"},
  "color": {"field": "lvl", "type": "nominal", "legend": null, "scale": {"domain": ["0","0.236","0.382","0.5","0.618","0.65"], "range": ["#9598a1","#c8cad0","#b9a7e2","#f07880","#f5b37a","#f0b070"]}}}},
{"data": {"name": "ibl"}, "mark": {"type": "rule", "strokeWidth": 2.2, "strokeDash": [2, 1.6]},
 "encoding": {"x": {"field": "t1", "type": "quantitative"}, "x2": {"field": "t2"}, "y": {"field": "p", "type": "quantitative"},
  "color": {"field": "g", "type": "nominal", "legend": null, "scale": {"domain": ["r","pk","pm","rm","lg","gm","g"], "range": ["#ff1e1e","#fbc5c9","#f78b93","#f45c66","#bde3be","#7bc67e","#2fa836"]}}}},
{"mark": {"type": "rule", "color": "#131722", "strokeWidth": 1, "strokeDash": [1, 2]},
 "encoding": {"x": {"datum": 2.539, "type": "quantitative"}, "x2": {"datum": 705.3}, "y": {"datum": 10.545, "type": "quantitative"}}},
{"data": {"name": "greens"}, "mark": {"type": "rule", "color": "#4caf50", "strokeWidth": 2.6},
 "encoding": {"x": {"field": "t1", "type": "quantitative"}, "x2": {"field": "t2"}, "y": {"field": "p", "type": "quantitative"}}},
{"data": {"name": "boxes"}, "mark": {"type": "rect", "color": "#1f2440"},
 "encoding": {"x": {"field": "t1", "type": "quantitative"}, "x2": {"field": "t2"}, "y": {"field": "lo", "type": "quantitative"}, "y2": {"field": "hi"}}},
{"data": {"name": "boxes"}, "mark": {"type": "text", "fontSize": 9.5, "fontWeight": "bold", "align": "center", "baseline": "middle"},
 "encoding": {"x": {"field": "tm", "type": "quantitative"}, "y": {"datum": 7.985, "type": "quantitative"}, "text": {"field": "txt"},
  "color": {"field": "txt", "type": "nominal", "legend": null, "scale": {"domain": ["COLOUR INFO","MONTHLY VWAP","VWAP INFO"], "range": ["#ffffff","#26a69a","#ffffff"]}}}},
{"data": {"name": "ib"}, "mark": {"type": "bar", "size": 5, "color": "#ebdfc8"},
 "encoding": {"x": {"field": "t", "type": "quantitative"}, "y": {"field": "lo", "type": "quantitative"}, "y2": {"field": "hi"}}},
{"data": {"name": "candles"}, "mark": {"type": "rule", "color": "#000000", "strokeWidth": 1},
 "encoding": {"x": {"field": "t", "type": "quantitative"}, "y": {"field": "lo", "type": "quantitative"}, "y2": {"field": "hi"}}},
{"data": {"name": "candles"}, "mark": {"type": "bar", "size": 2.6, "stroke": "#000000", "strokeWidth": 0.9},
 "encoding": {"x": {"field": "t", "type": "quantitative"}, "y": {"field": "o", "type": "quantitative"}, "y2": {"field": "c"},
  "fill": {"condition": {"test": "datum.c < datum.o", "value": "#000000"}, "value": "#ffffff"}}},
{"data": {"name": "pvwap"}, "mark": {"type": "line", "color": "#b0467e", "strokeWidth": 1.3},
 "encoding": {"x": {"field": "t", "type": "quantitative"}, "y": {"field": "v", "type": "quantitative"}}},
{"data": {"name": "vwap"}, "mark": {"type": "line", "color": "#5a6fb0", "strokeWidth": 1.2},
 "encoding": {"x": {"field": "t", "type": "quantitative"}, "y": {"field": "v", "type": "quantitative"}}},
{"data": {"name": "ema"}, "mark": {"type": "line", "color": "#00bcd4", "strokeWidth": 3},
 "encoding": {"x": {"field": "t", "type": "quantitative"}, "y": {"field": "v", "type": "quantitative"}, "detail": {"field": "s"}}},
{"data": {"name": "ma"}, "mark": {"type": "line", "color": "#a61c5c", "strokeWidth": 3},
 "encoding": {"x": {"field": "t", "type": "quantitative"}, "y": {"field": "v", "type": "quantitative"}, "detail": {"field": "s"}}},
{"data": {"name": "dots"}, "mark": {"type": "point", "shape": "circle", "filled": true, "size": 150, "opacity": 1},
 "encoding": {"x": {"field": "t", "type": "quantitative"}, "y": {"field": "p", "type": "quantitative"},
  "color": {"field": "k", "type": "nominal", "legend": null, "scale": {"domain": ["r","g"], "range": ["#ff0000","#00e000"]}}}},
{"data": {"name": "draw"}, "mark": {"type": "line", "color": "#9c27b0", "strokeWidth": 1.5},
 "encoding": {"x": {"field": "t", "type": "quantitative"}, "y": {"field": "p", "type": "quantitative"}, "detail": {"field": "id"}, "order": {"field": "k"}}},
{"data": {"name": "circ"}, "transform": [{"filter": "datum.id == 'a'"}], "mark": {"type": "point", "shape": "circle", "size": 642, "fill": "#f23645", "fillOpacity": 0.1, "stroke": "#f23645", "strokeWidth": 2, "filled": false},
 "encoding": {"x": {"field": "t", "type": "quantitative"}, "y": {"field": "p", "type": "quantitative"}}},
{"data": {"name": "circ"}, "transform": [{"filter": "datum.id == 'b'"}], "mark": {"type": "point", "shape": "circle", "size": 3675, "fill": "#f23645", "fillOpacity": 0.1, "stroke": "#f23645", "strokeWidth": 2, "filled": false},
 "encoding": {"x": {"field": "t", "type": "quantitative"}, "y": {"field": "p", "type": "quantitative"}}},
{"data": {"name": "circ"}, "transform": [{"filter": "datum.id == 'c'"}], "mark": {"type": "point", "shape": "circle", "size": 2324, "fill": "#f23645", "fillOpacity": 0.1, "stroke": "#f23645", "strokeWidth": 2, "filled": false},
 "encoding": {"x": {"field": "t", "type": "quantitative"}, "y": {"field": "p", "type": "quantitative"}}},
{"data": {"name": "heads"}, "transform": [{"filter": "datum.id == 'a'"}], "mark": {"type": "point", "shape": "M-0.8,0.8L0,0L0.8,0.8", "size": 200, "filled": false, "stroke": "#9c27b0", "strokeWidth": 1.5, "angle": 41},
 "encoding": {"x": {"field": "t", "type": "quantitative"}, "y": {"field": "p", "type": "quantitative"}}},
{"data": {"name": "heads"}, "transform": [{"filter": "datum.id == 'b'"}], "mark": {"type": "point", "shape": "M-0.8,0.8L0,0L0.8,0.8", "size": 200, "filled": false, "stroke": "#9c27b0", "strokeWidth": 1.5, "angle": 44},
 "encoding": {"x": {"field": "t", "type": "quantitative"}, "y": {"field": "p", "type": "quantitative"}}},
{"data": {"name": "heads"}, "transform": [{"filter": "datum.id == 'c'"}], "mark": {"type": "point", "shape": "M-0.8,0.8L0,0L0.8,0.8", "size": 200, "filled": false, "stroke": "#9c27b0", "strokeWidth": 1.5, "angle": 47},
 "encoding": {"x": {"field": "t", "type": "quantitative"}, "y": {"field": "p", "type": "quantitative"}}},
{"mark": {"type": "rect", "color": "#000000"},
 "encoding": {"x": {"datum": 705.3, "type": "quantitative"}, "x2": {"datum": 716.6}, "y": {"datum": 10.469, "type": "quantitative"}, "y2": {"datum": 10.569}}},
{"mark": {"type": "text", "text": "10.545", "color": "#ffffff", "fontSize": 11.5, "fontWeight": "bold", "align": "left", "baseline": "middle"},
 "encoding": {"x": {"datum": 707.3, "type": "quantitative"}, "y": {"datum": 10.545, "type": "quantitative"}}},
{"mark": {"type": "text", "text": "25:20", "color": "#ffffff", "fontSize": 11.5, "fontWeight": "bold", "align": "left", "baseline": "middle"},
 "encoding": {"x": {"datum": 707.3, "type": "quantitative"}, "y": {"datum": 10.494, "type": "quantitative"}}},
{"data": {"name": "marks"}, "mark": {"type": "point", "shape": "triangle-right", "filled": true, "size": 45, "opacity": 1},
 "encoding": {"x": {"datum": 706.4, "type": "quantitative"}, "y": {"field": "p", "type": "quantitative"},
  "color": {"field": "k", "type": "nominal", "legend": null, "scale": {"domain": ["g","b"], "range": ["#787b86","#131722"]}}}},
{"mark": {"type": "text", "text": "gorogadam published on TradingView.com, May 16, 2024 08:34 UTC", "color": "#d1d4dc", "fontSize": 11.5, "align": "left", "baseline": "middle"},
 "encoding": {"x": {"datum": 2.539, "type": "quantitative"}, "y": {"datum": 11.945, "type": "quantitative"}}},
{"mark": {"type": "text", "text": "RNDR / TetherUS, 1h, BINANCE", "color": "#8a8d96", "fontSize": 11, "align": "left", "baseline": "middle"},
 "encoding": {"x": {"datum": 3.0, "type": "quantitative"}, "y": {"datum": 11.849, "type": "quantitative"}}},
{"mark": {"type": "text", "text": "O10.583  H10.596  L10.534  C10.545  \u22120.038 (\u22120.36%)", "color": "#131722", "fontSize": 11, "align": "left", "baseline": "middle"},
 "encoding": {"x": {"datum": 42.2, "type": "quantitative"}, "y": {"datum": 11.849, "type": "quantitative"}}},
{"mark": {"type": "text", "text": ["EMA", "MA", "Initial Balance", "MOTIF X VWAP", "Leledc Exhaustion Bar"], "color": "#9598a1", "fontSize": 11, "lineHeight": 17, "align": "left", "baseline": "top"},
 "encoding": {"x": {"datum": 3.0, "type": "quantitative"}, "y": {"datum": 11.8135, "type": "quantitative"}}},
{"mark": {"type": "text", "text": "TV", "color": "#e0e3eb", "fontSize": 14, "fontWeight": 900, "align": "left", "baseline": "middle"},
 "encoding": {"x": {"datum": 2.539, "type": "quantitative"}, "y": {"datum": 7.766, "type": "quantitative"}}},
{"mark": {"type": "text", "text": "TradingView", "color": "#e0e3eb", "fontSize": 13, "align": "left", "baseline": "middle"},
 "encoding": {"x": {"datum": 7.85, "type": "quantitative"}, "y": {"datum": 7.766, "type": "quantitative"}}}
]
}
